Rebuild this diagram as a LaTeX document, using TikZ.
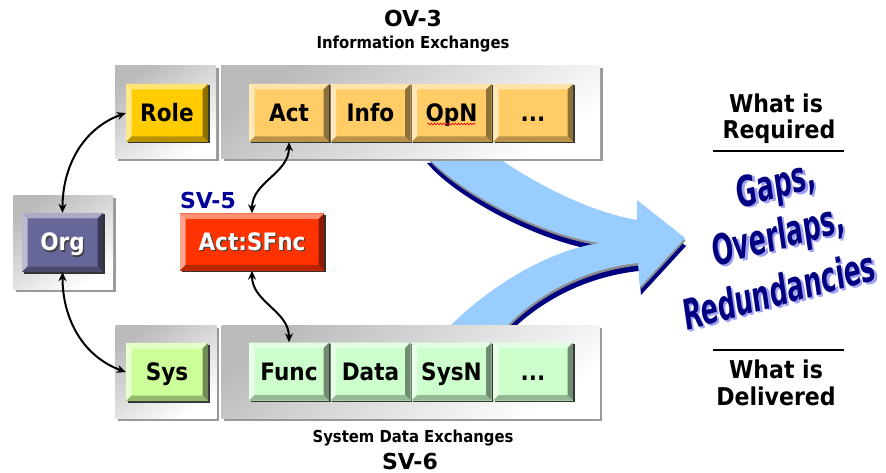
\documentclass[tikz,border=0pt]{standalone}
\usepackage{fontspec}
\usepackage{graphicx}
\usetikzlibrary{arrows.meta,shadows,decorations.pathmorphing}

\newfontfamily\condfont{DejaVu Sans Condensed}
\newfontfamily\headfont{DejaVu Sans}

\definecolor{roleC}{HTML}{FFCC00}
\definecolor{ovC}{HTML}{FFCC66}
\definecolor{orgC}{HTML}{666699}
\definecolor{sfncC}{HTML}{FF3300}
\definecolor{sysC}{HTML}{CCFF99}
\definecolor{svC}{HTML}{CCFFCC}
\definecolor{navyC}{HTML}{000080}
\definecolor{skyC}{HTML}{99CCFF}
\definecolor{svlabel}{HTML}{000099}
\definecolor{glowC}{HTML}{A0A0F0}

% white lettering with a dark offset shadow
\newcommand\shadowed[1]{\leavevmode\rlap{\kern1.3pt\raisebox{-1.3pt}{\textcolor{black!75}{#1}}}#1}
% navy lettering over a pale violet offset copy
\newcommand\glowtext[1]{\leavevmode\rlap{\kern1.8pt\raisebox{-1.6pt}{\textcolor{glowC}{#1}}}\textcolor{navyC}{#1}}

\tikzset{
  panel/.style={minimum width=#1, inner sep=0pt, minimum height=93pt,
    top color=black!27, bottom color=white, shading angle=35,
    drop shadow={shadow xshift=2.5pt, shadow yshift=-2.5pt, fill=black!40, opacity=1}},
  btn/.style={fill=#1, inner sep=0pt, minimum width=80pt, minimum height=58pt,
    text height=17pt, text depth=0pt,
    font=\condfont\bfseries\fontsize{24}{24}\selectfont,
    drop shadow={shadow xshift=1.5pt, shadow yshift=-1.5pt, fill=black!80, opacity=1},
    path picture={
      \coordinate (bnw) at (path picture bounding box.north west);
      \coordinate (bne) at (path picture bounding box.north east);
      \coordinate (bsw) at (path picture bounding box.south west);
      \coordinate (bse) at (path picture bounding box.south east);
      \fill[#1!55!white] (bnw) -- (bne) -- ([shift={(-5.5pt,-5.5pt)}]bne) -- ([shift={(5.5pt,-5.5pt)}]bnw) -- cycle;
      \fill[#1!45!white] (bnw) -- ([shift={(5.5pt,-5.5pt)}]bnw) -- ([shift={(5.5pt,5.5pt)}]bsw) -- (bsw) -- cycle;
      \fill[#1!55!black] (bne) -- (bse) -- ([shift={(-5.5pt,5.5pt)}]bse) -- ([shift={(-5.5pt,-5.5pt)}]bne) -- cycle;
      \fill[#1!72!black] (bsw) -- ([shift={(5.5pt,5.5pt)}]bsw) -- ([shift={(-5.5pt,5.5pt)}]bse) -- (bse) -- cycle;
    }},
  link/.style={line width=2pt, {Stealth[length=9pt,width=8pt]}-{Stealth[length=9pt,width=8pt]}},
  caption/.style={font=\condfont\bfseries\fontsize{16.5}{16.5}\selectfont, anchor=base},
  viewtag/.style={font=\headfont\bfseries\fontsize{22}{22}\selectfont, anchor=base},
  sidetext/.style={font=\condfont\bfseries\fontsize{24.5}{24.5}\selectfont, anchor=base},
  slanted/.style={font=\condfont\bfseries\itshape\fontsize{27}{27}\selectfont, rotate=15, inner sep=0pt},
  bigarrow/.pic={
    \path[pic actions] (494,155) .. controls (535,184) and (590,212) .. (637,220)
      -- (637,200) -- (685,238) -- (640,287) -- (638,263)
      .. controls (590,268) and (540,290) .. (503,330)
      -- (446,330) .. controls (490,285) and (550,250) .. (600,243)
      .. controls (540,235) and (455,190) .. (426,155) -- cycle;
  }
}

\begin{document}
\begin{tikzpicture}[x=1pt,y=-1pt]
\useasboundingbox (0,0) rectangle (886,473);
\fill[white] (0,0) rectangle (886,473);

% the merging arrow, with its navy edge and thin grey rim
\pic[fill=navyC] at (1,8) {bigarrow};
\pic[fill=black!45] at (0.5,2.5) {bigarrow};
\pic[fill=skyC] at (0,0) {bigarrow};

% grey trays
\node[panel=101pt] (trayRole) at (165.5,112.5) {};
\node[panel=379pt] (trayOV)   at (410.5,112.5) {};
\node[panel=100pt] (trayOrg)  at (63,242.5) {};
\node[panel=101pt] (traySys)  at (166,371.5) {};
\node[panel=378pt] (traySV)   at (410.5,371.5) {};

% operational row
\node[btn=roleC, minimum width=82pt] (role) at (167,113) {Role};
\node[btn=ovC] (act)  at (289,113) {Act};
\node[btn=ovC] (info) at (370.5,113) {Info};
\node[btn=ovC] (opn)  at (451.5,113) {OpN};
\node[btn=ovC] (ovmore) at (533,113) {...};
\draw[red, line width=0.6pt, decorate, decoration={snake, amplitude=0.9pt, segment length=3pt}]
  ([xshift=-24pt,yshift=-11pt]opn.center) -- ([xshift=24pt,yshift=-11pt]opn.center);

% organisation and system function mapping
\node[btn=orgC, minimum width=81pt, minimum height=59pt, text=white] (org) at (62.5,242.5) {\shadowed{Org}};
\node[btn=sfncC, minimum width=144pt, minimum height=57pt, text=white] (sfnc) at (252,242) {\shadowed{Act:SFnc}};
\node[viewtag, text=svlabel] (sv5) at (208,208) {SV-5};

% systems row
\node[btn=sysC, minimum width=82pt] (sys) at (167,372) {Sys};
\node[btn=svC] (func) at (289,371.5) {Func};
\node[btn=svC] (data) at (370.5,371.5) {Data};
\node[btn=svC] (sysn) at (451.5,371.5) {SysN};
\node[btn=svC] (svmore) at (533,371.5) {...};

% captions
\node[viewtag] (ov3) at (413,27) {OV-3};
\node[caption] (ovcap) at (413,49) {Information Exchanges};
\node[caption] (svcap) at (413,442) {System Data Exchanges};
\node[viewtag] (sv6) at (410,469) {SV-6};

% links
\draw[link] (org.north) to[out=90, in=200] (role.west);
\draw[link] (org.south) to[out=-90, in=160] (sys.west);
\draw[link] (act.south) to[out=-90, in=90] (sfnc.north);
\draw[link] (sfnc.south) to[out=-90, in=90] (func.north);

% required versus delivered
\node[sidetext] (req1) at (776,113) {What is};
\node[sidetext] (req2) at (779,139) {Required};
\coordinate (rl1) at (713,151);
\coordinate (rr1) at (844,151);
\draw[line width=2.7pt] (rl1) -- (rr1);
\coordinate (rl2) at (713,350);
\coordinate (rr2) at (844,350);
\draw[line width=2.7pt] (rl2) -- (rr2);
\node[sidetext] (del1) at (776,378) {What is};
\node[sidetext] (del2) at (776,405) {Delivered};

% slanted findings
\node[slanted] (gaps)  at (777,188) {\scalebox{1.04}[1.55]{\glowtext{Gaps,}}};
\node[slanted] (over)  at (779,239) {\scalebox{1.04}[1.55]{\glowtext{Overlaps,}}};
\node[slanted] (redun) at (779,291) {\scalebox{1.04}[1.55]{\glowtext{Redundancies}}};
\end{tikzpicture}
\end{document}
